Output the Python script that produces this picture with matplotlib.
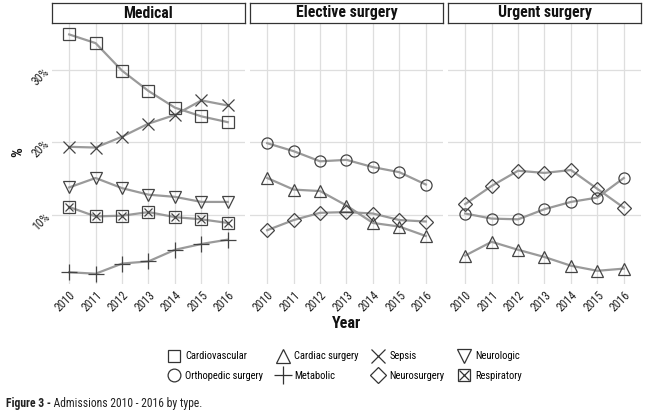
import matplotlib
matplotlib.use("Agg")
import matplotlib.pyplot as plt
from matplotlib.lines import Line2D

plt.rcParams['font.family'] = ['Roboto Condensed', 'DejaVu Sans']

years = [2010, 2011, 2012, 2013, 2014, 2015, 2016]
panels = ["Medical", "Elective surgery", "Urgent surgery"]

# Medical
med_cardiovascular = [34.9, 33.7, 29.9, 27.1, 24.8, 23.6, 22.8]
med_sepsis = [19.4, 19.3, 20.8, 22.6, 23.8, 25.8, 25.1]
med_neurologic = [13.8, 15.1, 13.7, 12.8, 12.5, 11.8, 11.8]
med_respiratory = [11.1, 9.8, 9.9, 10.4, 9.7, 9.4, 8.9]
med_metabolic = [2.1, 1.9, 3.3, 3.6, 5.2, 6.0, 6.6]
# Elective surgery
ele_orthopedic = [19.9, 18.8, 17.4, 17.6, 16.6, 15.9, 14.2]
ele_cardiac = [15.1, 13.5, 13.3, 11.3, 8.9, 8.4, 7.1]
ele_neurosurgery = [7.9, 9.3, 10.3, 10.4, 10.2, 9.3, 9.1]
# Urgent surgery
urg_neurosurgery = [11.5, 14.0, 16.1, 15.8, 16.2, 13.6, 11.0]
urg_orthopedic = [10.2, 9.5, 9.4, 10.8, 11.8, 12.4, 15.1]
urg_cardiac = [4.4, 6.3, 5.2, 4.2, 3.0, 2.3, 2.6]

yticks = [10, 20, 30]
ytick_labels = ["10%", "20%", "30%"]

categories = ["Cardiovascular", "Orthopedic surgery", "Cardiac surgery", "Metabolic",
              "Sepsis", "Neurosurgery", "Neurologic", "Respiratory"]

shape = {
    "Cardiovascular": [("s", 8)],
    "Orthopedic surgery": [("o", 8)],
    "Cardiac surgery": [("^", 9)],
    "Metabolic": [("+", 11)],
    "Sepsis": [("x", 9)],
    "Neurosurgery": [("D", 7.5)],
    "Neurologic": [("v", 9)],
    "Respiratory": [("s", 8), ("x", 6)],
}

panel_data = [
    [("Cardiovascular", med_cardiovascular), ("Sepsis", med_sepsis),
     ("Neurologic", med_neurologic), ("Respiratory", med_respiratory),
     ("Metabolic", med_metabolic)],
    [("Orthopedic surgery", ele_orthopedic), ("Cardiac surgery", ele_cardiac),
     ("Neurosurgery", ele_neurosurgery)],
    [("Neurosurgery", urg_neurosurgery), ("Orthopedic surgery", urg_orthopedic),
     ("Cardiac surgery", urg_cardiac)],
]

W, H = 648, 412
fig = plt.figure(figsize=(W / 100, H / 100), dpi=100)
fig.patch.set_facecolor("white")

lefts = [52, 250, 448]
pw = 193
ptop, pbot = 24, 284
stop, sbot = 3, 23

line_col = "#9a9a9a"
edge_col = "#444444"

for i, (name, series) in enumerate(zip(panels, panel_data)):
    ax = fig.add_axes([lefts[i] / W, (H - pbot) / H, pw / W, (pbot - ptop) / H])
    for cat, vals in series:
        ax.plot(years, vals, color=line_col, lw=1.6, zorder=2)
        for m, ms in shape[cat]:
            ax.plot(years, vals, linestyle="none", marker=m, ms=ms,
                    mfc="none", mec=edge_col, mew=0.9, zorder=3)
    ax.set_xlim(2009.35, 2016.65)
    ax.set_ylim(0.48, 36.34)
    ax.set_xticks(years)
    ax.set_xticklabels([str(y) for y in years], rotation=45, ha="right",
                       rotation_mode="anchor", fontsize=8.5, color="#222222")
    ax.set_yticks(yticks)
    if i == 0:
        ax.set_yticklabels(ytick_labels, rotation=45, fontsize=8.5, color="#222222",
                           ha="right", va="center", rotation_mode="anchor")
    else:
        ax.set_yticklabels([])
    ax.tick_params(length=0, pad=3)
    ax.grid(True, color="#dedede", lw=0.9)
    ax.set_axisbelow(True)
    for s in ax.spines.values():
        s.set_visible(False)
    # strip
    sax = fig.add_axes([lefts[i] / W, (H - sbot) / H, pw / W, (sbot - stop) / H])
    sax.set_xticks([]); sax.set_yticks([])
    for s in sax.spines.values():
        s.set_edgecolor("#333333"); s.set_linewidth(0.9)
    sax.text(0.5, 0.5, name, ha="center", va="center", fontsize=11.3,
             fontweight="bold", color="#111111", transform=sax.transAxes)

fig.text(18 / W, (H - 152) / H, "%", rotation=90, ha="center", va="center",
         fontsize=11, fontweight="bold", color="#111111")
fig.text(347 / W, (H - 323) / H, "Year", ha="center", va="center",
         fontsize=11.5, fontweight="bold", color="#111111")

handles = []
for cat in categories:
    hs = tuple(Line2D([], [], linestyle="none", marker=m, ms=ms * 1.15, mfc="none",
                      mec="#333333", mew=0.9) for m, ms in shape[cat])
    handles.append(hs if len(hs) > 1 else hs[0])
fig.legend(handles, categories, ncol=4, loc="center", bbox_to_anchor=(345 / W, (H - 366) / H),
           frameon=False, fontsize=7.6, handlelength=1.1, handletextpad=0.5,
           columnspacing=1.3, labelspacing=0.9)

t1 = fig.text(6 / W, (H - 404) / H, "Figure 3 -", ha="left", va="center",
              fontsize=8.4, fontweight="bold", color="#222222")
plt.annotate(" Admissions 2010 - 2016 by type.", xy=(1, 0.5), xycoords=t1,
             ha="left", va="center", fontsize=8.4, color="#222222",
             annotation_clip=False)

fig.savefig("out.png", dpi=100, facecolor="white")
